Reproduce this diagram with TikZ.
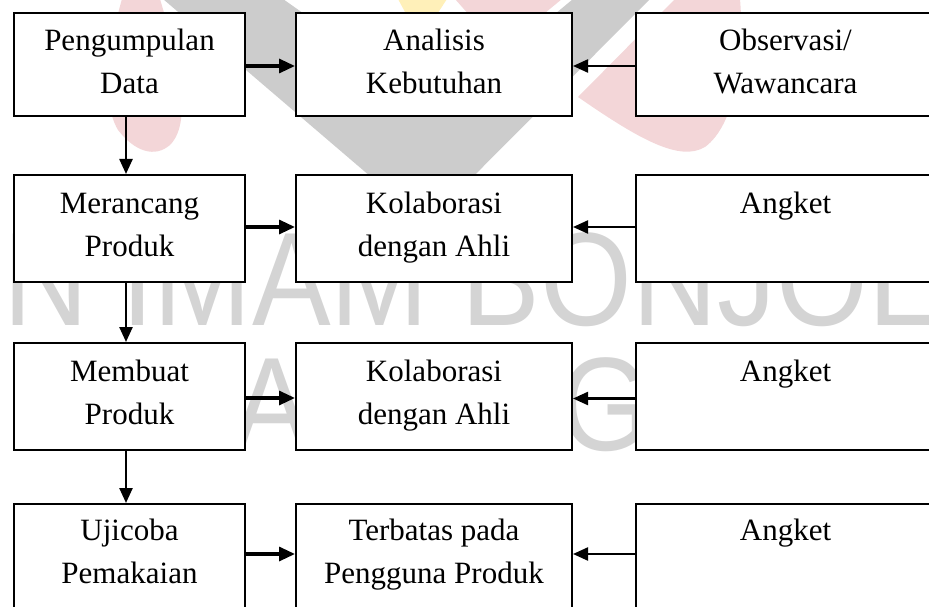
\documentclass[tikz,border=0pt]{standalone}
\usepackage{fontspec}
\setmainfont{Liberation Serif}
\newfontfamily\wmfont{Liberation Sans}
\usetikzlibrary{arrows.meta}
\definecolor{wmpink}{RGB}{243,214,216}
\definecolor{wmgray}{RGB}{204,204,204}
\definecolor{wmtext}{RGB}{212,212,212}
\definecolor{wmyellow}{RGB}{255,240,185}
\tikzset{
  box/.style={draw=black, line width=2pt, fill=white, inner sep=0pt},
  txt/.style={inner sep=0pt, anchor=base, font=\fontsize{31}{43}\selectfont},
  arrL/.style={line width=3.2pt, -{Triangle[length=16pt,width=14pt]}},
  arrR/.style={line width=2.2pt, -{Triangle[length=15pt,width=13pt]}},
  arrD/.style={line width=2.4pt, -{Triangle[length=15pt,width=13pt]}},
  wm/.style={inner sep=0pt, anchor=base west, text=wmtext, font=\wmfont\fontsize{133}{133}\selectfont},
}
\newcommand{\twol}[2]{\begin{tabular}[t]{@{}c@{}}#1\\#2\end{tabular}}
\begin{document}
\begin{tikzpicture}[x=1pt,y=-1pt]
\useasboundingbox (0,0) rectangle (929,607);
\clip (0,0) rectangle (929,607);
% background logo watermark
\fill[wmgray] (163,-1) -- (283,-1) -- (440,110) -- (573,-1) -- (650,-1) -- (426,224) -- cycle;
\fill[wmyellow] (398,-1) -- (447,-1) -- (430,25) -- (412,25) -- cycle;
\fill[wmpink] (455,-1) -- (562,-1) -- (500,50) -- cycle;
\fill[wmpink] (122,-1) -- (160,-1) .. controls (175,50) and (195,120) .. (170,145) .. controls (155,158) and (135,152) .. (118,130) .. controls (100,100) and (110,40) .. (122,-1);
\fill[wmpink] (675,-1) -- (740,-1) .. controls (745,60) and (735,125) .. (705,147) .. controls (680,162) and (640,140) .. (578,97) -- cycle;
\node[wm] (wm1) at (3,325) {\scalebox{0.887}[1]{N IMAM BONJOL}};
\node[wm] (wm2) at (162,450) {\scalebox{0.887}[1]{PADANG}};
% boxes
\node[box, minimum width=231pt, minimum height=103pt] (a1) at (129.5,64.5) {};
\node[box, minimum width=276pt, minimum height=103pt] (b1) at (434,64.5) {};
\node[box, minimum width=299pt, minimum height=103pt] (c1) at (785.5,64.5) {};
\node[box, minimum width=231pt, minimum height=107pt] (a2) at (129.5,228.5) {};
\node[box, minimum width=276pt, minimum height=107pt] (b2) at (434,228.5) {};
\node[box, minimum width=299pt, minimum height=107pt] (c2) at (785.5,228.5) {};
\node[box, minimum width=231pt, minimum height=107pt] (a3) at (129.5,396.5) {};
\node[box, minimum width=276pt, minimum height=107pt] (b3) at (434,396.5) {};
\node[box, minimum width=299pt, minimum height=107pt] (c3) at (785.5,396.5) {};
\node[box, minimum width=231pt, minimum height=111pt] (a4) at (129.5,559.5) {};
\node[box, minimum width=276pt, minimum height=111pt] (b4) at (434,559.5) {};
\node[box, minimum width=299pt, minimum height=111pt] (c4) at (785.5,559.5) {};
% texts
\node[txt] (ta1) at ([yshift=-39pt]a1.north) {\twol{Pengumpulan}{Data}};
\node[txt] (tb1) at ([yshift=-39pt]b1.north) {\twol{Analisis}{Kebutuhan}};
\node[txt] (tc1) at ([yshift=-39pt]c1.north) {\twol{Observasi/}{Wawancara}};
\node[txt] (ta2) at ([yshift=-39pt]a2.north) {\twol{Merancang}{Produk}};
\node[txt] (tb2) at ([yshift=-39pt]b2.north) {\twol{Kolaborasi}{dengan Ahli}};
\node[txt] (tc2) at ([yshift=-39pt]c2.north) {Angket};
\node[txt] (ta3) at ([yshift=-39pt]a3.north) {\twol{Membuat}{Produk}};
\node[txt] (tb3) at ([yshift=-39pt]b3.north) {\twol{Kolaborasi}{dengan Ahli}};
\node[txt] (tc3) at ([yshift=-39pt]c3.north) {Angket};
\node[txt] (ta4) at ([yshift=-37pt]a4.north) {\twol{Ujicoba}{Pemakaian}};
\node[txt] (tb4) at ([yshift=-37pt]b4.north) {\twol{Terbatas pada}{Pengguna Produk}};
\node[txt] (tc4) at ([yshift=-37pt]c4.north) {Angket};
% arrows left column -> middle
\draw[arrL] ([yshift=-1.5pt]a1.east) -- ([yshift=-1.5pt]a1.east -| b1.west);
\draw[arrL] ([yshift=1.5pt]a2.east) -- ([yshift=1.5pt]a2.east -| b2.west);
\draw[arrL] ([yshift=-1.5pt]a3.east) -- ([yshift=-1.5pt]a3.east -| b3.west);
\draw[arrL] ([yshift=5.5pt]a4.east) -- ([yshift=5.5pt]a4.east -| b4.west);
% arrows right column -> middle
\draw[arrR] ([yshift=-1.5pt]c1.west) -- ([yshift=-1.5pt]c1.west -| b1.east);
\draw[arrR] ([yshift=1.5pt]c2.west) -- ([yshift=1.5pt]c2.west -| b2.east);
\draw[arrR] ([yshift=-2pt]c3.west) -- ([yshift=-2pt]c3.west -| b3.east);
\draw[arrR] ([yshift=5.5pt]c4.west) -- ([yshift=5.5pt]c4.west -| b4.east);
% vertical arrows
\draw[arrD] ([xshift=-3.5pt]a1.south) -- ([xshift=-3.5pt]a2.north);
\draw[arrD] ([xshift=-3.5pt]a2.south) -- ([xshift=-3.5pt]a3.north);
\draw[arrD] ([xshift=-3.5pt]a3.south) -- ([xshift=-3.5pt]a4.north);
\end{tikzpicture}
\end{document}
